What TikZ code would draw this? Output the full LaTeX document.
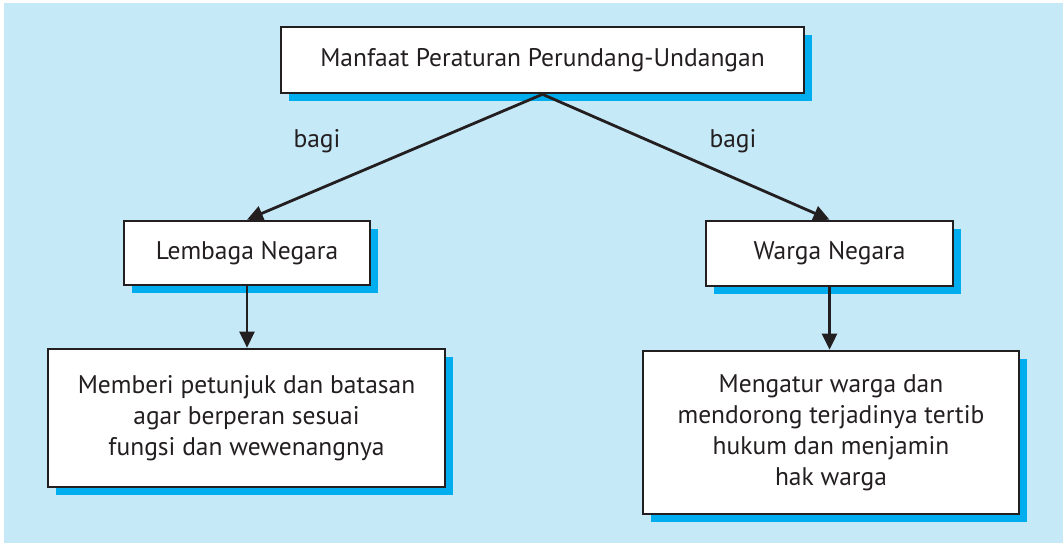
\documentclass[tikz,border=0pt]{standalone}
\usepackage{fontspec}
\setmainfont{PT Sans}
\usetikzlibrary{arrows.meta}
\usetikzlibrary{shadows}
\definecolor{bgblue}{HTML}{C6E9F8}
\definecolor{shadowblue}{HTML}{00AEEF}
\definecolor{inkgray}{HTML}{231F20}
\tikzset{
   card/.style={ draw=inkgray, line width=1.5pt, fill=white, text=inkgray,
           align=center, inner sep=0pt,
           drop shadow={fill=shadowblue, opacity=1, shadow xshift=0.16cm, shadow yshift=-0.17cm},
   },
   link/.style={ draw=inkgray, line width=1.6pt, -{Triangle[length=0.32cm,width=0.3cm]} },
   every node/.append style={ font=\fontsize{14.5}{17.6}\selectfont, text=inkgray },
}

\begin{document}
\begin{tikzpicture}
    \useasboundingbox (0,0) rectangle (21.26,10.86);
    \fill[bgblue] (0.08,0) rectangle (21.26,10.80);

    % judul
    \node[card, minimum width=10.46cm, minimum height=1.32cm] (manfaat) at (10.85, 9.66)
        {Manfaat Peraturan Perundang-Undangan};

    % tingkat kedua
    \node[card, minimum width=4.92cm, minimum height=1.28cm] (lembaga) at (4.94, 5.80) {Lembaga Negara};
    \node[card, minimum width=4.94cm, minimum height=1.30cm] (warga) at (16.59, 5.79) {Warga Negara};

    % keterangan
    \node[card, minimum width=7.94cm, minimum height=2.76cm] (petunjuk) at (4.93, 2.50)
        {Memberi petunjuk dan batasan\\agar berperan sesuai\\fungsi dan wewenangnya};
    \node[card, minimum width=7.52cm, minimum height=3.26cm] (tertib) at (16.62, 2.21)
        {Mengatur warga dan\\mendorong terjadinya tertib\\hukum dan menjamin\\hak warga};

    \draw[link] (manfaat.south) -- (lembaga.north);
    \draw[link] (manfaat.south) -- (warga.north);
    \draw[link] (lembaga.south) -- (lembaga.south |- petunjuk.north);
    \draw[link] (warga.south) -- (warga.south |- tertib.north);

    \node (bagikiri) at (6.34, 8.04) {bagi};
    \node (bagikanan) at (14.66, 8.04) {bagi};

  \end{tikzpicture}
\end{document}
